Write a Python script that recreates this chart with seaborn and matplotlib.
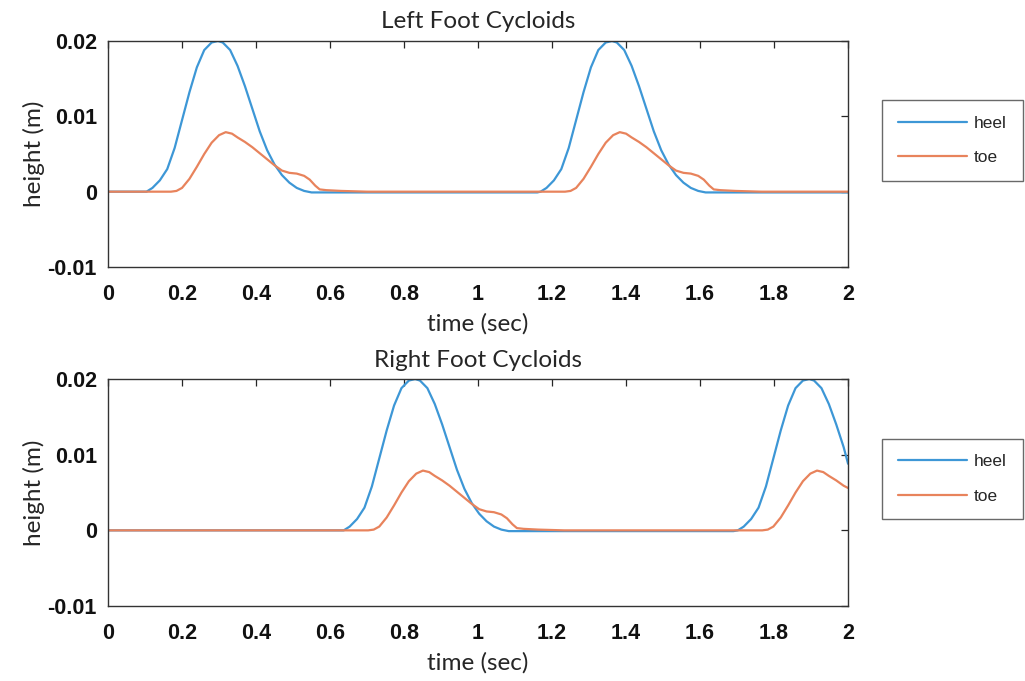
import matplotlib
matplotlib.use("Agg")
import matplotlib.pyplot as plt
import numpy as np
import pandas as pd
import seaborn as sns

# ---------------- data ----------------
left_heel_t = [0.0, 0.104, 0.12, 0.14, 0.16, 0.18, 0.20, 0.22, 0.24, 0.26, 0.28, 0.297, 0.31, 0.33,
               0.35, 0.37, 0.39, 0.41, 0.43, 0.45, 0.47, 0.49, 0.51, 0.53, 0.55, 0.60,
               1.16, 1.169, 1.185, 1.205, 1.225, 1.245, 1.265, 1.285, 1.305, 1.325, 1.345, 1.362,
               1.375, 1.395, 1.415, 1.435, 1.455, 1.475, 1.495, 1.515, 1.535, 1.555, 1.575,
               1.595, 1.615, 1.665, 2.0]
left_heel_h = [0.0, 0.0, 0.0005, 0.0015, 0.0030, 0.0058, 0.0095, 0.0132, 0.0165, 0.0188, 0.0198,
               0.0200, 0.0198, 0.0188, 0.0167, 0.0140, 0.0110, 0.0080, 0.0055, 0.0036, 0.0022,
               0.0012, 0.0005, 0.0001, -0.0001, -0.0001,
               -0.0001, 0.0, 0.0005, 0.0015, 0.0030, 0.0058, 0.0095, 0.0132, 0.0165, 0.0188,
               0.0198, 0.0200, 0.0198, 0.0188, 0.0167, 0.0140, 0.0110, 0.0080, 0.0055, 0.0036,
               0.0022, 0.0012, 0.0005, 0.0001, -0.0001, -0.0001, -0.0001]

left_toe_t = [0.0, 0.17, 0.185, 0.20, 0.22, 0.24, 0.26, 0.28, 0.30, 0.318, 0.335, 0.35, 0.37, 0.39,
              0.41, 0.43, 0.45, 0.47, 0.49, 0.51, 0.53, 0.545, 0.56, 0.572, 0.59, 0.63, 0.70,
              1.235, 1.25, 1.265, 1.285, 1.305, 1.325, 1.345, 1.365, 1.383, 1.40, 1.415, 1.435,
              1.455, 1.475, 1.495, 1.515, 1.535, 1.555, 1.575, 1.595, 1.61, 1.625, 1.637,
              1.655, 1.695, 1.765, 2.0]
left_toe_h = [0.0, 0.0, 0.0001, 0.0005, 0.0017, 0.0033, 0.0050, 0.0065, 0.0075, 0.0079, 0.0077,
              0.0072, 0.0066, 0.0059, 0.0051, 0.0043, 0.0035, 0.0028, 0.0025, 0.0024, 0.0021,
              0.0016, 0.0008, 0.0003, 0.0002, 0.0001, 0.0,
              0.0, 0.0001, 0.0005, 0.0017, 0.0033, 0.0050, 0.0065, 0.0075, 0.0079, 0.0077,
              0.0072, 0.0066, 0.0059, 0.0051, 0.0043, 0.0035, 0.0028, 0.0025, 0.0024, 0.0021,
              0.0016, 0.0008, 0.0003, 0.0002, 0.0001, 0.0, 0.0]

right_heel_t = [0.0, 0.637, 0.653, 0.673, 0.693, 0.713, 0.733, 0.753, 0.773, 0.793, 0.813, 0.830,
                0.843, 0.863, 0.883, 0.903, 0.923, 0.943, 0.963, 0.983, 1.003, 1.023, 1.043,
                1.063, 1.083, 1.133, 1.69, 1.702, 1.718, 1.738, 1.758, 1.778, 1.798, 1.818,
                1.838, 1.858, 1.878, 1.895, 1.908, 1.928, 1.948, 1.968, 1.988, 2.0]
right_heel_h = [0.0, 0.0, 0.0005, 0.0015, 0.0030, 0.0058, 0.0095, 0.0132, 0.0165, 0.0188, 0.0198,
                0.0200, 0.0198, 0.0188, 0.0167, 0.0140, 0.0110, 0.0080, 0.0055, 0.0036, 0.0022,
                0.0012, 0.0005, 0.0001, -0.0001, -0.0001, -0.0001, 0.0, 0.0005, 0.0015, 0.0030,
                0.0058, 0.0095, 0.0132, 0.0165, 0.0188, 0.0198, 0.0200, 0.0198, 0.0188, 0.0167,
                0.0140, 0.0110, 0.0088]

right_toe_t = [0.0, 0.703, 0.718, 0.733, 0.753, 0.773, 0.793, 0.813, 0.833, 0.851, 0.868, 0.883,
               0.903, 0.923, 0.943, 0.963, 0.983, 1.003, 1.023, 1.043, 1.063, 1.078, 1.093,
               1.105, 1.123, 1.163, 1.233, 1.768, 1.783, 1.798, 1.818, 1.838, 1.858, 1.878,
               1.898, 1.916, 1.933, 1.948, 1.968, 1.988, 2.0]
right_toe_h = [0.0, 0.0, 0.0001, 0.0005, 0.0017, 0.0033, 0.0050, 0.0065, 0.0075, 0.0079, 0.0077,
               0.0072, 0.0066, 0.0059, 0.0051, 0.0043, 0.0035, 0.0028, 0.0025, 0.0024, 0.0021,
               0.0016, 0.0008, 0.0003, 0.0002, 0.0001, 0.0, 0.0, 0.0001, 0.0005, 0.0017,
               0.0033, 0.0050, 0.0065, 0.0075, 0.0079, 0.0077, 0.0072, 0.0066, 0.0059, 0.0056]

x_ticks = [0, 0.2, 0.4, 0.6, 0.8, 1.0, 1.2, 1.4, 1.6, 1.8, 2.0]
x_tick_labels = ["0", "0.2", "0.4", "0.6", "0.8", "1", "1.2", "1.4", "1.6", "1.8", "2"]
y_ticks = [-0.01, 0.0, 0.01, 0.02]
y_tick_labels = ["-0.01", "0", "0.01", "0.02"]

titles = ["Left Foot Cycloids", "Right Foot Cycloids"]
series_names = ["heel", "toe"]
colors = {"heel": "#3d97d6", "toe": "#e8835c"}

# ---------------- style ----------------
sns.set_theme(style="white")
plt.rcParams["font.family"] = ["Liberation Sans", "DejaVu Sans"]
INK = "#262626"

fig = plt.figure(figsize=(10.25, 6.81), dpi=100)
ax1 = fig.add_axes([0.1054, 0.6079, 0.7220, 0.3319])
ax2 = fig.add_axes([0.1054, 0.1101, 0.7220, 0.3333])


def make_df(ht, hh, tt, th):
    a = pd.DataFrame({"time": ht, "height": hh, "part": "heel"})
    b = pd.DataFrame({"time": tt, "height": th, "part": "toe"})
    return pd.concat([a, b], ignore_index=True)


data = [make_df(left_heel_t, left_heel_h, left_toe_t, left_toe_h),
        make_df(right_heel_t, right_heel_h, right_toe_t, right_toe_h)]
legend_y = [0.7937, 0.2966]

label_font = dict(family=["Lato", "DejaVu Sans"], size=17.5, color=INK)

for ax, df, title, ly in zip([ax1, ax2], data, titles, legend_y):
    sns.lineplot(data=df, x="time", y="height", hue="part", hue_order=series_names,
                 palette=colors, estimator=None, sort=False, linewidth=1.6, ax=ax)
    ax.set_xlim(0, 2)
    ax.set_ylim(-0.01, 0.02)
    ax.set_xticks(x_ticks)
    ax.set_xticklabels(x_tick_labels)
    ax.set_yticks(y_ticks)
    ax.set_yticklabels(y_tick_labels)
    for lab in ax.get_xticklabels() + ax.get_yticklabels():
        lab.set_fontweight("bold")
        lab.set_fontsize(15.5)
        lab.set_color("#111111")
    ax.tick_params(axis="both", direction="in", top=True, right=True, length=5,
                   width=0.9, color=INK)
    ax.tick_params(axis="x", pad=12)
    ax.tick_params(axis="y", pad=8)
    for s in ax.spines.values():
        s.set_color("#333333")
        s.set_linewidth(1.0)
    ax.set_xlabel("time (sec)", fontdict=label_font, labelpad=6)
    ax.set_ylabel("height (m)", fontdict=label_font, labelpad=2)
    ax.set_title(title, fontdict=dict(family=["Lato", "DejaVu Sans"], size=17.5, color=INK),
                 pad=9)
    handles, labels = ax.get_legend_handles_labels()
    ax.get_legend().remove()
    leg = ax.legend(handles, labels, loc="center left", bbox_to_anchor=(0.8605, ly),
                    bbox_transform=fig.transFigure, frameon=True, fancybox=False,
                    fontsize=12.5, handlelength=4.0, handletextpad=0.4, borderpad=0.9,
                    labelspacing=1.1, borderaxespad=0.0)
    leg.get_frame().set_edgecolor("#444444")
    leg.get_frame().set_linewidth(1.0)
    for line in leg.get_lines():
        line.set_linewidth(1.6)

fig.savefig("out.png", dpi=100)
